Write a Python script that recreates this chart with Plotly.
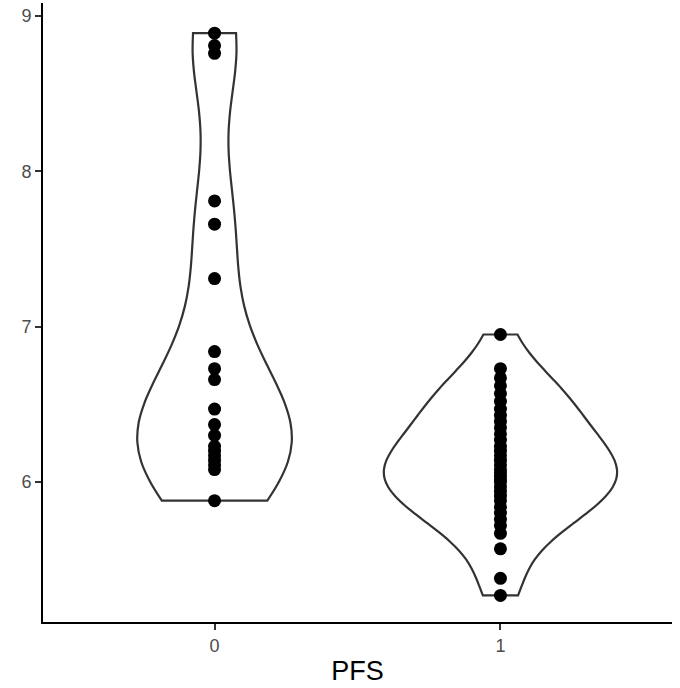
import numpy as np
import plotly.graph_objects as go

# PFS groups and measured values
groups = ["0", "1"]
pfs0 = [8.89, 8.81, 8.76, 7.81, 7.66, 7.31, 6.84, 6.73, 6.66, 6.47, 6.37,
        6.30, 6.23, 6.20, 6.17, 6.14, 6.11, 6.08, 5.88]
pfs1 = [6.95, 6.73, 6.67, 6.62, 6.57, 6.52, 6.47, 6.43, 6.39, 6.35, 6.31,
        6.27, 6.23, 6.20, 6.17, 6.14, 6.11, 6.08, 6.06, 6.04, 6.02, 6.00,
        5.97, 5.94, 5.91, 5.88, 5.84, 5.80, 5.76, 5.72, 5.67, 5.57, 5.38,
        5.27]
values = [pfs0, pfs1]
violin_widths = [0.54, 0.815]  # full violin widths in category units
adjust = [0.8, 1.1]            # bandwidth multipliers on bw.nrd0


def bw_nrd0(x):
    x = np.asarray(x, dtype=float)
    q75, q25 = np.percentile(x, [75, 25])
    spread = min(np.std(x, ddof=1), (q75 - q25) / 1.34)
    return 0.9 * spread * len(x) ** (-0.2)


fig = go.Figure()
for g, v, w, a in zip(groups, values, violin_widths, adjust):
    fig.add_trace(go.Violin(
        x=[g] * len(v), y=v, name=g,
        bandwidth=a * bw_nrd0(v), spanmode="hard",
        scalemode="width", width=w,
        points=False, box_visible=False, meanline_visible=False,
        fillcolor="white", line=dict(color="#333333", width=2.2),
        hoverinfo="skip", showlegend=False,
    ))
    fig.add_trace(go.Scatter(
        x=[g] * len(v), y=v, mode="markers",
        marker=dict(color="black", size=13, line=dict(width=0)),
        showlegend=False,
    ))

fig.update_layout(
    width=680, height=688,
    margin=dict(l=43, r=8, t=3, b=66),
    paper_bgcolor="white", plot_bgcolor="white",
    violinmode="overlay",
    font=dict(family="Liberation Sans, Arial, sans-serif", color="#4D4D4D"),
    xaxis=dict(
        type="category", categoryorder="array", categoryarray=groups,
        range=[-0.6, 1.6],
        showline=True, linecolor="black", linewidth=2,
        ticks="outside", ticklen=6, tickwidth=1.5, tickcolor="#333333",
        tickfont=dict(size=18, color="#4D4D4D"),
        showgrid=False, zeroline=False,
        title=dict(text="PFS", font=dict(size=27, color="black"), standoff=7),
    ),
    yaxis=dict(
        range=[5.099, 9.084],
        tickvals=[6, 7, 8, 9],
        showline=True, linecolor="black", linewidth=2,
        ticks="outside", ticklen=6, tickwidth=1.5, tickcolor="#333333",
        tickfont=dict(size=18, color="#4D4D4D"),
        showgrid=False, zeroline=False,
    ),
)

fig.write_html("out.html")
